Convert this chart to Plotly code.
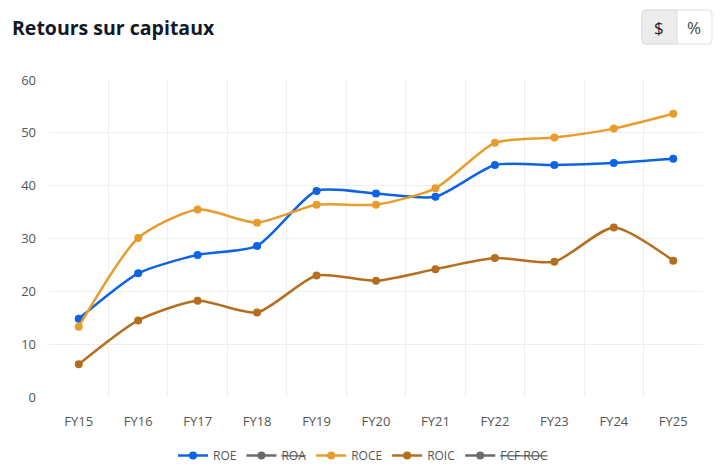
import plotly.graph_objects as go

years = ["FY15", "FY16", "FY17", "FY18", "FY19", "FY20", "FY21", "FY22", "FY23", "FY24", "FY25"]
roe = [14.8, 23.4, 26.9, 28.6, 39.0, 38.5, 37.9, 43.9, 43.9, 44.3, 45.1]
roce = [13.3, 30.1, 35.5, 33.0, 36.4, 36.4, 39.5, 48.1, 49.1, 50.8, 53.6]
roic = [6.2, 14.5, 18.2, 16.0, 23.0, 22.0, 24.2, 26.3, 25.6, 32.1, 25.8]
y_ticks = [0, 10, 20, 30, 40, 50, 60]

FONT = "Open Sans"
fig = go.Figure()

def add(name, vals, color, hidden=False):
    fig.add_trace(go.Scatter(
        x=years, y=vals if not hidden else [None] * len(years),
        name=name, mode="lines+markers",
        line=dict(color=color, width=2.5, shape="spline", smoothing=0.65),
        marker=dict(color=color, size=8),
    ))

add("ROE", roe, "#0c63e4")
add("<s>ROA</s>", None, "#6b6b6b", hidden=True)
add("ROCE", roce, "#e89c2c")
add("ROIC", roic, "#b56e1e")
add("<s>FCF ROC</s>", None, "#6b6b6b", hidden=True)

fig.update_layout(
    width=723, height=470,
    margin=dict(l=49, r=20, t=80, b=73, autoexpand=False),
    paper_bgcolor="white", plot_bgcolor="white",
    font=dict(family=FONT, color="#555", size=12),
    showlegend=True,
    legend=dict(orientation="h", x=173 / 723, xanchor="left", y=15, yanchor="middle",
                xref="container", yref="container",
                font=dict(size=12, color="#555"), tracegroupgap=0),
    xaxis=dict(type="category", tickson="boundaries", showgrid=True, gridcolor="#eeeeee",
               range=[-0.5, 10.5], ticks="", ticklabelstandoff=15, automargin=False,
               showline=False, zeroline=False, tickfont=dict(size=13, color="#555")),
    yaxis=dict(range=[0, 60], tickvals=y_ticks, showgrid=True, gridcolor="#eeeeee",
               zeroline=False, showline=False, ticks="", ticklabelstandoff=12, automargin=False,
               tickfont=dict(size=13, color="#555")),
    annotations=[
        dict(text="<b>Retours sur capitaux</b>", xref="paper", yref="paper", x=0, y=1,
             xshift=-39, yshift=53, xanchor="left", yanchor="middle", showarrow=False,
             font=dict(family=FONT, size=19.5, color="#111827")),
        dict(text="$", xref="paper", yref="paper", x=(659 - 49) / 654, y=1,
             yshift=53, xanchor="center", yanchor="middle", showarrow=False,
             font=dict(family=FONT, size=17, color="#222")),
        dict(text="%", xref="paper", yref="paper", x=(694 - 49) / 654, y=1,
             yshift=53, xanchor="center", yanchor="middle", showarrow=False,
             font=dict(family=FONT, size=17, color="#444")),
    ],
)

def rr(x0, y0, x1, y1, r, left=True, right=True):
    W, H = 654, 317
    def px(x): return (x - 49) / W
    def py(y): return (397 - y) / H
    rl = r if left else 0
    rrr = r if right else 0
    p = f"M {px(x0 + rl)} {py(y0)} L {px(x1 - rrr)} {py(y0)} "
    p += f"Q {px(x1)} {py(y0)} {px(x1)} {py(y0 + rrr)} L {px(x1)} {py(y1 - rrr)} "
    p += f"Q {px(x1)} {py(y1)} {px(x1 - rrr)} {py(y1)} L {px(x0 + rl)} {py(y1)} "
    p += f"Q {px(x0)} {py(y1)} {px(x0)} {py(y1 - rl)} L {px(x0)} {py(y0 + rl)} "
    p += f"Q {px(x0)} {py(y0)} {px(x0 + rl)} {py(y0)} Z"
    return p

fig.add_shape(type="path", xref="paper", yref="paper", path=rr(642, 10, 712, 44, 4),
              fillcolor="white", line=dict(color="#dddddd", width=1))
fig.add_shape(type="path", xref="paper", yref="paper", path=rr(642, 10, 677, 44, 4, right=False),
              fillcolor="#ececec", line=dict(color="#dddddd", width=1))

fig.write_html("out.html")
